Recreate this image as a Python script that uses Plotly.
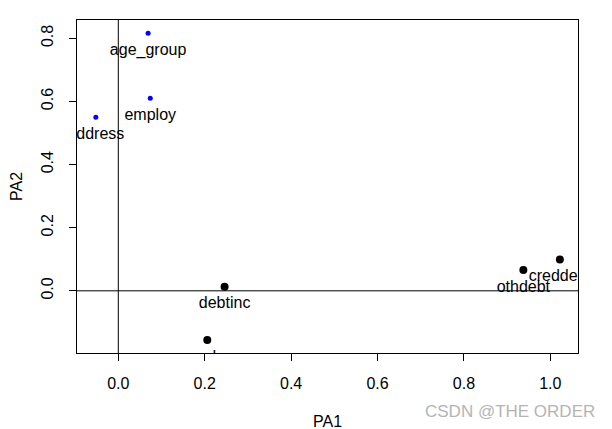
import plotly.graph_objects as go

labels = ["age_group", "employ", "address", "debtinc", "ed", "othdebt", "creddebt"]
pa1 = [0.069, 0.074, -0.052, 0.246, 0.206, 0.9375, 1.022]
pa2 = [0.816, 0.610, 0.550, 0.013, -0.156, 0.066, 0.0995]
groups = ["blue", "blue", "blue", "black", "black", "black", "black"]

x_ticks = [0.0, 0.2, 0.4, 0.6, 0.8, 1.0]
y_ticks = [0.0, 0.2, 0.4, 0.6, 0.8]

FONT = "Liberation Sans, Arial, sans-serif"

fig = go.Figure()
# labels (invisible spacer markers set the text offset below each point)
fig.add_trace(go.Scatter(
    x=pa1, y=pa2, mode="markers+text", text=labels,
    textposition="bottom center", cliponaxis=True,
    textfont=dict(family=FONT, size=16, color="black"),
    marker=dict(color="rgba(0,0,0,0)", size=14), showlegend=False, hoverinfo="skip",
))
for col, size in [("blue", 5), ("black", 8)]:
    idx = [i for i, g in enumerate(groups) if g == col]
    fig.add_trace(go.Scatter(
        x=[pa1[i] for i in idx], y=[pa2[i] for i in idx],
        mode="markers", cliponaxis=True,
        marker=dict(color=col, size=size), showlegend=False,
    ))

fig.add_hline(y=0, line=dict(color="black", width=1))
fig.add_vline(x=0, line=dict(color="black", width=1))

axis_common = dict(showgrid=False, zeroline=False, showline=True, mirror=True,
                   linecolor="black", linewidth=1, ticks="outside", ticklen=7,
                   tickcolor="black", tickwidth=1, automargin=False,
                   tickfont=dict(family=FONT, size=16, color="black"))

fig.update_xaxes(range=[-0.0956, 1.064], tickvals=x_ticks,
                 ticktext=[f"{v:.1f}" for v in x_ticks],
                 title=dict(text="PA1", font=dict(family=FONT, size=16, color="black"), standoff=24),
                 ticklabelstandoff=9, **axis_common)
fig.update_yaxes(range=[-0.197, 0.858], tickvals=y_ticks,
                 ticktext=[f"{v:.1f}" for v in y_ticks], tickangle=-90,
                 title=dict(text="PA2", font=dict(family=FONT, size=16, color="black"), standoff=20),
                 ticklabelstandoff=10, **axis_common)

fig.add_annotation(text="CSDN @THE ORDER", xref="paper", yref="paper",
                   x=1.038, y=-0.177, xanchor="right", yanchor="middle", showarrow=False,
                   font=dict(family=FONT, size=17, color="#b4b4b4"))

fig.update_layout(width=612, height=429, margin=dict(l=69, r=42, t=12, b=84),
                  plot_bgcolor="white", paper_bgcolor="white")

fig.write_html("out.html")
